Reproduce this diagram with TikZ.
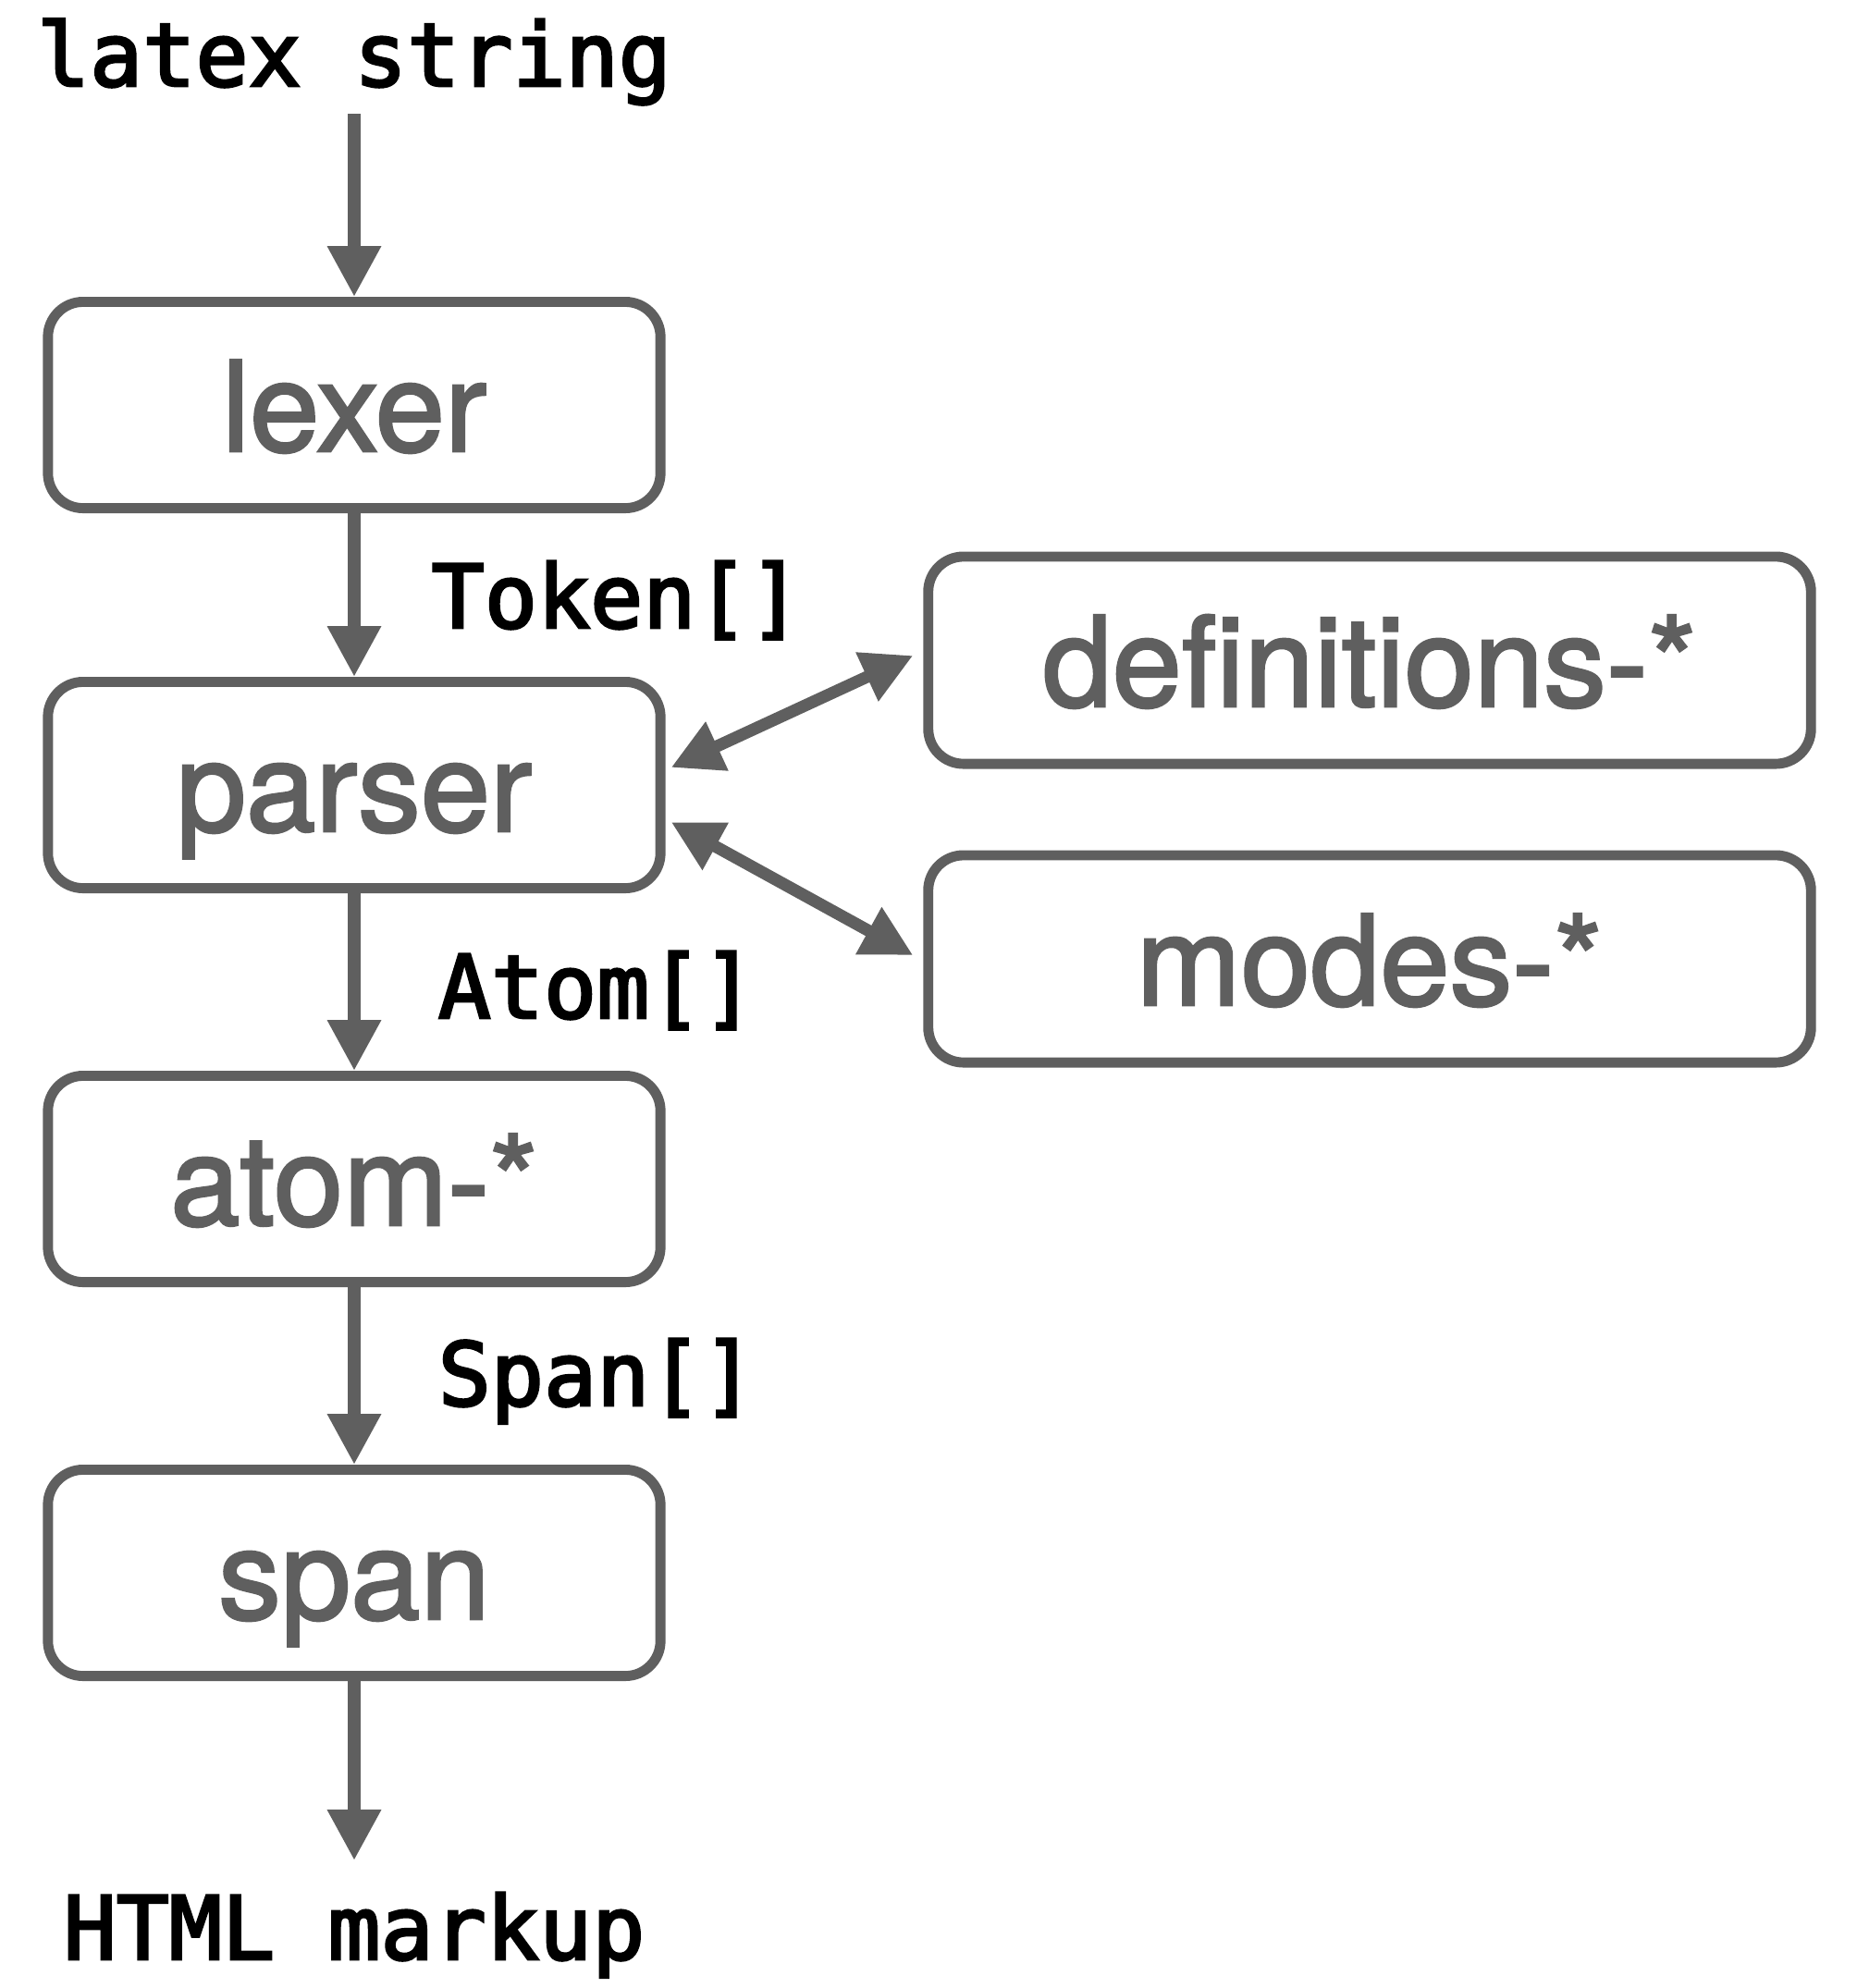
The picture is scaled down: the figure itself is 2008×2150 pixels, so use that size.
\documentclass[tikz,border=0pt]{standalone}
\usepackage{fontspec}
\newfontfamily\boxfont[FakeBold=2]{TeX Gyre Heros}
\newfontfamily\monofont[FakeBold=3]{DejaVu Sans Mono}
\usetikzlibrary{arrows.meta}
\definecolor{fg}{HTML}{5F5F5F}
\begin{document}
\begin{tikzpicture}[x=0.01cm,y=-0.01cm,
  box/.style={draw=fg, line width=3.1pt, rounded corners=0.38cm, inner sep=0pt,
    text=fg, font=\boxfont\fontsize{38.5}{42}\selectfont, text height=28.4pt, text depth=0pt,
    minimum width=6.62cm, minimum height=2.23cm},
  wide/.style={box, minimum width=9.54cm, minimum height=2.24cm},
  conn/.style={draw=fg, line width=3.7pt, -{Triangle[length=15.6pt,width=15.6pt]}},
  dconn/.style={draw=fg, line width=3.7pt, {Triangle[length=15.6pt,width=15.6pt]}-{Triangle[length=15.6pt,width=15.6pt]}},
  io/.style={font=\monofont\fontsize{27}{30}\selectfont, text=black, inner sep=0pt, anchor=base},
  tag/.style={io, anchor=base west}
]
\useasboundingbox (0,0) rectangle (2008,2150);

\node[box] (lexer) at (383,438) {lexer};
\node[box] (parser) at (383,849) {parser};
\node[box] (atom) at (383,1275) {atom-*};
\node[box] (span) at (383,1701) {span};
\node[wide] (defs) at (1481,714) {definitions-*};
\node[wide] (modes) at (1481,1037) {modes-*};

\node[io] (src) at (383,93) {latex string};
\node[io] (out) at (383,2119) {HTML markup};
\coordinate (srcend) at (383,123);
\coordinate (outend) at (383,2012);

\node[tag] (tok) at (466,679) {Token[]};
\node[tag] (atm) at (473,1101) {Atom[]};
\node[tag] (spn) at (473,1520) {Span[]};

\draw[conn] (srcend) -- (lexer.north);
\draw[conn] (lexer.south) -- (parser.north);
\draw[conn] (parser.south) -- (atom.north);
\draw[conn] (atom.south) -- (span.north);
\draw[conn] (span.south) -- (outend);

\draw[dconn] ([xshift=0.06cm,yshift=0.19cm]parser.east) -- ([xshift=-0.11cm,yshift=0.05cm]defs.west);
\draw[dconn] ([xshift=0.06cm,yshift=-0.40cm]parser.east) -- ([xshift=-0.11cm,yshift=0.04cm]modes.west);
\end{tikzpicture}
\end{document}
